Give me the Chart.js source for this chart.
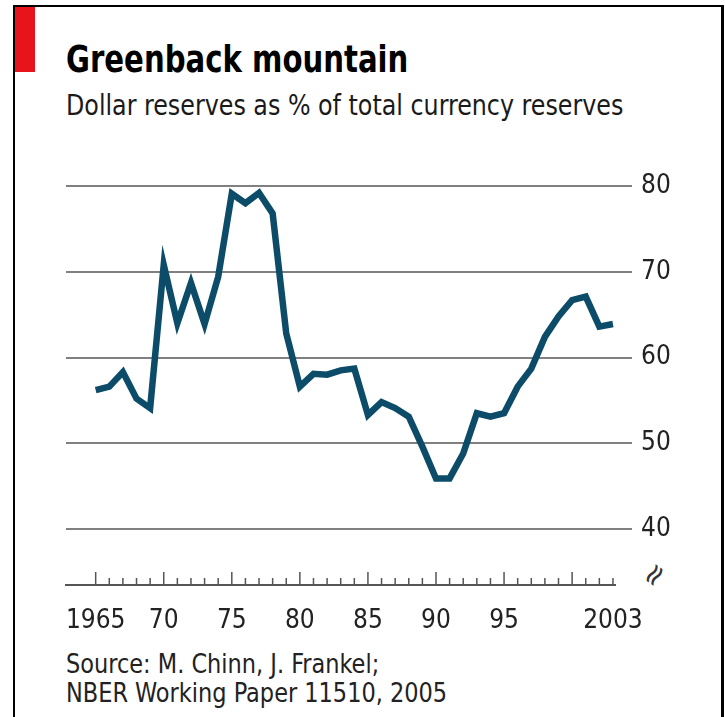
<!DOCTYPE html>
<html>
<head>
<meta charset="utf-8">
<script src="https://cdn.jsdelivr.net/npm/chart.js@4.4.0/dist/chart.umd.min.js"></script>
<style>
  body { margin: 0; background: #fff; width: 725px; height: 717px; overflow: hidden; position: relative;
         font-family: "DejaVu Sans Condensed", "DejaVu Sans", sans-serif; }
  #frame { position: absolute; left: 13px; top: 5px; width: 711px; height: 720px; box-sizing: border-box;
           border: solid #000; border-width: 2px 3px 0 2px; }
  #red { position: absolute; left: 15px; top: 7px; width: 20px; height: 65px; background: #e8141c; }
  .txt { position: absolute; left: 66px; white-space: nowrap; line-height: 1; transform-origin: 0 0; }
  #title { top: 40px; font-size: 38px; font-weight: bold; color: #000; transform: scaleX(0.853); }
  #subtitle { top: 91px; font-size: 29px; color: #1a1a1a; transform: scaleX(0.912); }
  #source { top: 650px; font-size: 26px; line-height: 28.5px; color: #222; transform: scaleX(0.96); }
  #brk { position: absolute; left: 641px; top: 557px; font-size: 30px; color: #333;
         transform: rotate(-55deg); font-family: "DejaVu Sans", sans-serif; }
  canvas { position: absolute; left: 0; top: 0; }
</style>
</head>
<body>
<div id="frame"></div>
<div id="red"></div>
<div class="txt" id="title">Greenback mountain</div>
<div class="txt" id="subtitle">Dollar reserves as % of total currency reserves</div>
<div class="txt" id="source">Source: M. Chinn, J. Frankel;<br>NBER Working Paper 11510, 2005</div>
<span id="brk">≈</span>
<canvas id="chart" width="725" height="717"></canvas>
<script>
const years = [1965, 1966, 1967, 1968, 1969, 1970, 1971, 1972, 1973, 1974,
               1975, 1976, 1977, 1978, 1979, 1980, 1981, 1982, 1983, 1984,
               1985, 1986, 1987, 1988, 1989, 1990, 1991, 1992, 1993, 1994,
               1995, 1996, 1997, 1998, 1999, 2000, 2001, 2002, 2003];
const dollarShare = [56.2, 56.6, 58.3, 55.2, 54.1, 70.8, 64.0, 68.7, 63.9, 69.4,
                     79.1, 78.0, 79.2, 76.8, 62.8, 56.6, 58.1, 58.0, 58.5, 58.7,
                     53.3, 54.8, 54.1, 53.1, 49.6, 45.9, 45.9, 48.8, 53.5, 53.1,
                     53.5, 56.6, 58.7, 62.4, 64.8, 66.7, 67.1, 63.6, 63.9];
const xTickYears = [1965, 1970, 1975, 1980, 1985, 1990, 1995, 2003];
const xTickLabels = ["1965", "70", "75", "80", "85", "90", "95", "2003"];
const yTicks = [40, 50, 60, 70, 80];

const labelFont = { family: "'DejaVu Sans Condensed', 'DejaVu Sans', sans-serif", size: 26 };

// small upward ticks for every year, taller every five
const yearTicks = {
  id: "yearTicks",
  afterDraw(chart) {
    const { ctx, chartArea, scales } = chart;
    ctx.save();
    ctx.strokeStyle = "#555";
    ctx.lineWidth = 1.5;
    years.forEach(yr => {
      const px = scales.x.getPixelForValue(yr);
      const len = yr % 5 === 0 ? 13 : 7;
      ctx.beginPath();
      ctx.moveTo(px, chartArea.bottom);
      ctx.lineTo(px, chartArea.bottom - len);
      ctx.stroke();
    });
    ctx.restore();
  }
};

new Chart(document.getElementById("chart").getContext("2d"), {
  type: "line",
  data: {
    datasets: [{
      data: years.map((yr, i) => ({ x: yr, y: dollarShare[i] })),
      borderColor: "#0c4c68",
      borderWidth: 6.5,
      borderJoinStyle: "miter",
      pointRadius: 0,
      tension: 0,
      fill: false
    }]
  },
  options: {
    responsive: false,
    animation: false,
    devicePixelRatio: 1,
    layout: { padding: { left: 66, top: 186, right: 0, bottom: 72 } },
    plugins: { legend: { display: false }, tooltip: { enabled: false } },
    scales: {
      x: {
        type: "linear",
        min: 1962.82,
        max: 2003.15,
        afterBuildTicks: s => { s.ticks = xTickYears.map(v => ({ value: v })); },
        ticks: {
          callback: v => xTickLabels[xTickYears.indexOf(v)],
          font: labelFont, color: "#222", padding: 21, maxRotation: 0, autoSkip: false
        },
        grid: { display: false, drawTicks: false },
        border: { display: true, color: "#555", width: 2 },
        afterFit: s => { s.height = 60; }
      },
      y: {
        position: "right",
        min: 33.47,
        max: 80,
        afterBuildTicks: s => { s.ticks = yTicks.map(v => ({ value: v })); },
        ticks: { font: labelFont, color: "#222", padding: 9 },
        grid: { color: "#808080", lineWidth: 2, tickLength: 17, tickColor: "#808080" },
        border: { display: false },
        afterFit: s => { s.width = 110; }
      }
    }
  },
  plugins: [yearTicks]
});
</script>
</body>
</html>
